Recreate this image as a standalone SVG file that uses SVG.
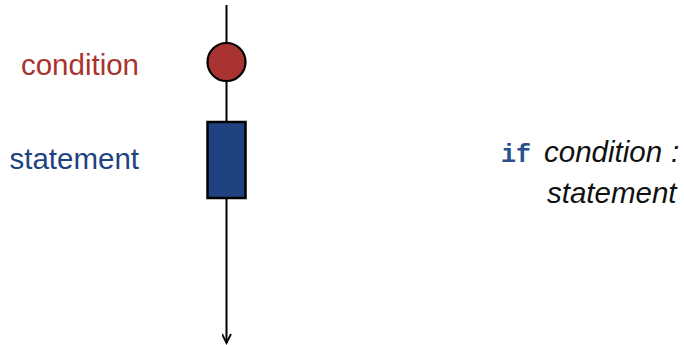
<svg xmlns="http://www.w3.org/2000/svg" width="684" height="345" viewBox="0 0 684 345">
  <defs>
    <style>
      .lbl { font-family: "Liberation Sans", Arial, sans-serif; font-size: 29.5px; }
      .cond { fill: #a93330; }
      .stmt { fill: #1f4381; }
      .code { font-family: "Liberation Sans", Arial, sans-serif; font-size: 29.5px; font-style: italic; fill: #111; }
      .kw { font-family: "Liberation Mono", "Courier New", monospace; font-weight: bold; font-size: 25px; fill: #2a4f8f; font-style: normal; }
      .flow { stroke: #000; stroke-width: 2; fill: none; }
    </style>
    <marker id="arrow" markerWidth="12" markerHeight="10" refX="10" refY="5" orient="auto" markerUnits="userSpaceOnUse">
      <path d="M1,0.5 L10,5 L1,9.5" fill="none" stroke="#000" stroke-width="1.8"/>
    </marker>
  </defs>

  <g id="connectors">
    <line class="flow" x1="226.5" y1="5" x2="226.5" y2="343" marker-end="url(#arrow)"/>
  </g>

  <g id="condition">
    <circle cx="226.5" cy="62" r="19" fill="#a93330" stroke="#000" stroke-width="2.2"/>
    <text class="lbl cond" x="139" y="75" text-anchor="end">condition</text>
  </g>

  <g id="statement">
    <rect x="207.5" y="122" width="38" height="76" fill="#1f4381" stroke="#000" stroke-width="2.5"/>
    <text class="lbl stmt" x="139" y="169" text-anchor="end">statement</text>
  </g>

  <g id="code">
    <text class="code" x="501" y="162"><tspan class="kw">if</tspan><tspan x="544">condition</tspan><tspan x="671">:</tspan></text>
    <text class="code" x="547" y="203">statement</text>
  </g>
</svg>
